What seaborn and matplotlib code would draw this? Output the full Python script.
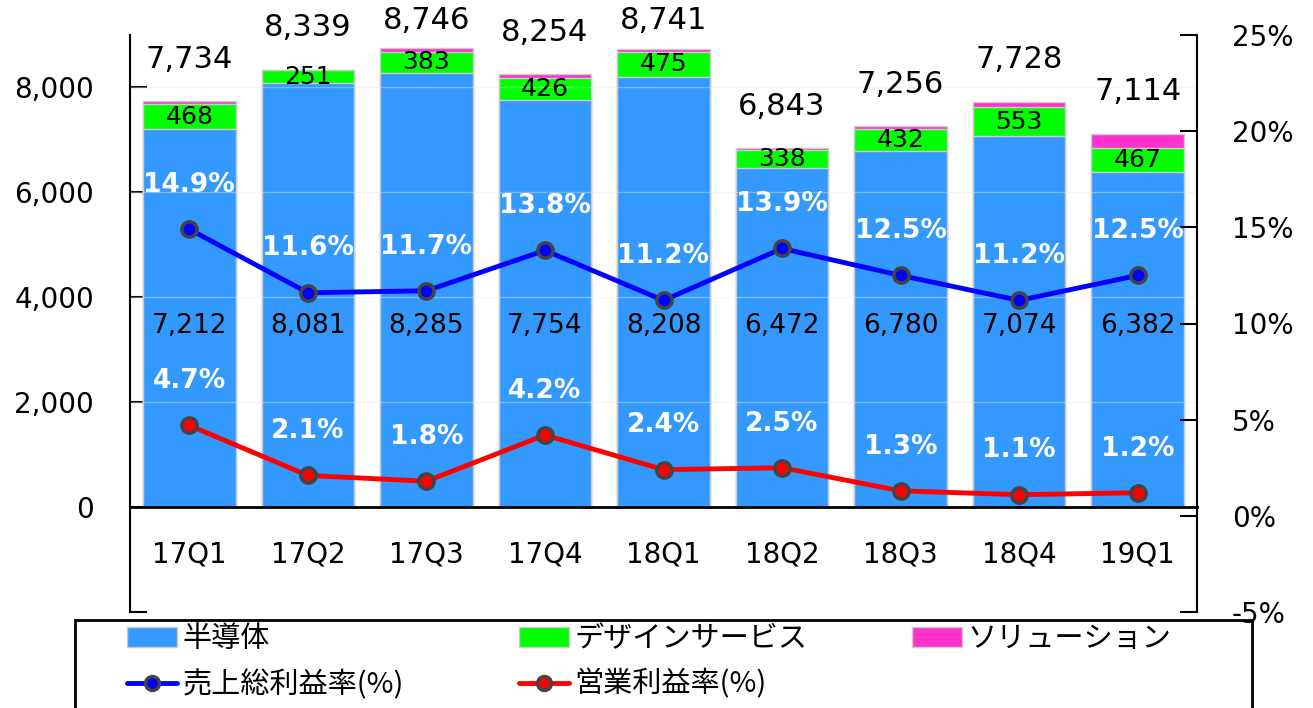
import numpy as np
import matplotlib
matplotlib.use("Agg")
import matplotlib.pyplot as plt
import seaborn as sns
from matplotlib.patches import Rectangle
from matplotlib.ticker import FixedLocator, FixedFormatter

quarters = ["17Q1", "17Q2", "17Q3", "17Q4", "18Q1", "18Q2", "18Q3", "18Q4", "19Q1"]
semi = [7212, 8081, 8285, 7754, 8208, 6472, 6780, 7074, 6382]
design = [468, 251, 383, 426, 475, 338, 432, 553, 467]
solution = [54, 7, 78, 74, 58, 33, 44, 101, 265]
totals = [7734, 8339, 8746, 8254, 8741, 6843, 7256, 7728, 7114]
gross_margin = [14.9, 11.6, 11.7, 13.8, 11.2, 13.9, 12.5, 11.2, 12.5]
op_margin = [4.7, 2.1, 1.8, 4.2, 2.4, 2.5, 1.3, 1.1, 1.2]

C_SEMI = "#3399ff"
C_DESIGN = "#00ff00"
C_SOL = "#ff33cc"
JP = ["Noto Sans CJK JP", "DejaVu Sans"]

sns.set_style("white")
plt.rcParams["font.family"] = ["DejaVu Sans", "Noto Sans CJK JP"]
plt.rcParams["text.color"] = "black"
plt.rcParams["xtick.color"] = "black"
plt.rcParams["ytick.color"] = "black"
plt.rcParams["axes.edgecolor"] = "black"

fig = plt.figure(figsize=(13.13, 7.08), dpi=100)
ax = fig.add_axes([130 / 1313, 1 - 612 / 708, 1067 / 1313, 577 / 708])

semi_arr = np.array(semi)
design_top = semi_arr + np.array(design)
sol_top = design_top + np.array(solution)

bar_kw = dict(ax=ax, width=0.78, saturation=1, errorbar=None,
              edgecolor="#cccccc", linewidth=1)
sns.barplot(x=quarters, y=sol_top, color=C_SOL, **bar_kw)
sns.barplot(x=quarters, y=design_top, color=C_DESIGN, **bar_kw)
sns.barplot(x=quarters, y=semi_arr, color=C_SEMI, **bar_kw)

ax.set_xlim(-0.5, len(quarters) - 0.5)
ax.set_ylim(-2000, 9000)
ax.set_xlabel("")
ax.set_ylabel("")

# faint grid over the bars
for v in [2000, 4000, 6000, 8000]:
    ax.axhline(v, color="#e6e6e6", lw=1, alpha=0.4, zorder=2.5)

# left axis
ax.yaxis.set_major_locator(FixedLocator([-2000, 0, 2000, 4000, 6000, 8000]))
ax.yaxis.set_major_formatter(FixedFormatter(["", "0", "2,000", "4,000", "6,000", "8,000"]))
ax.tick_params(axis="y", direction="in", length=12, width=1.5, pad=26, labelsize=20)

# x axis sits on zero line
ax.spines["bottom"].set_position(("data", 0))
ax.spines["bottom"].set_linewidth(2)
ax.spines["left"].set_linewidth(1.5)
ax.spines["top"].set_visible(False)
ax.spines["right"].set_visible(False)
n = len(quarters)
ax.xaxis.set_major_locator(FixedLocator(np.arange(n - 1) + 0.5))
ax.xaxis.set_major_formatter(FixedFormatter([""] * (n - 1)))
ax.xaxis.set_minor_locator(FixedLocator(np.arange(n)))
ax.xaxis.set_minor_formatter(FixedFormatter(quarters))
ax.tick_params(axis="x", which="major", direction="in", length=11, width=1.5)
ax.tick_params(axis="x", which="minor", length=0, pad=24, labelsize=20)

# bar labels (total labels are kept inside the figure top)
for i in range(n):
    ax.text(i, min(totals[i] + 800, 9270), f"{totals[i]:,}", ha="center", va="center",
            fontsize=22, clip_on=False)
    ax.text(i, semi[i] + design[i] / 2, f"{design[i]:,}", ha="center", va="center", fontsize=18)
    ax.text(i, 3450, f"{semi[i]:,}", ha="center", va="center", fontsize=19)

# right axis with margins
ax2 = ax.twinx()
ax2.set_ylim(-5, 25)
ax2.yaxis.set_major_locator(FixedLocator([-5, 0, 5, 10, 15, 20, 25]))
ax2.yaxis.set_major_formatter(FixedFormatter(["-5%", "0%", "5%", "10%", "15%", "20%", "25%"]))
ax2.tick_params(axis="y", direction="in", length=12, width=1.5, pad=25, labelsize=20)
for s in ["left", "top", "bottom"]:
    ax2.spines[s].set_visible(False)
ax2.spines["right"].set_linewidth(1.5)

x = np.arange(n)
line_kw = dict(ax=ax2, marker="o", markersize=11, markeredgecolor="#444444",
               markeredgewidth=2.5, linewidth=3.5, legend=False)
sns.lineplot(x=x, y=gross_margin, color="#0000ff", markerfacecolor="#0000ff", **line_kw)
sns.lineplot(x=x, y=op_margin, color="#ff0000", markerfacecolor="#ff0000", **line_kw)
ax2.set_xlim(-0.5, n - 0.5)

for i in range(n):
    ax2.text(i, gross_margin[i] + 2.3, f"{gross_margin[i]}%", ha="center", va="center",
             fontsize=19, fontweight="bold", color="white")
    ax2.text(i, op_margin[i] + 2.3, f"{op_margin[i]}%", ha="center", va="center",
             fontsize=19, fontweight="bold", color="white")

# legend
def bar_handle(c):
    return Rectangle((0, 0), 1, 1, facecolor=c, edgecolor="#cccccc", linewidth=1)

def line_handle(c):
    return plt.Line2D([], [], color=c, lw=3.5, marker="o", markersize=10,
                      markerfacecolor=c, markeredgecolor="#444444", markeredgewidth=2.5)

leg_kw = dict(loc="upper left", frameon=False, borderpad=0, borderaxespad=0,
              handlelength=1.7, handleheight=0.68, handletextpad=0.2,
              labelspacing=0.53, prop={"family": JP, "size": 21})
top = 1 - 624 / 708
fig.legend([bar_handle(C_SEMI), line_handle("#0000ff")], ["半導体", "売上総利益率(%)"],
           bbox_to_anchor=(127 / 1313, top), **leg_kw)
fig.legend([bar_handle(C_DESIGN), line_handle("#ff0000")], ["デザインサービス", "営業利益率(%)"],
           bbox_to_anchor=(519 / 1313, top), **leg_kw)
fig.legend([bar_handle(C_SOL)], ["ソリューション"],
           bbox_to_anchor=(912 / 1313, top), **leg_kw)
fig.add_artist(Rectangle((75 / 1313, -0.05), (1252 - 75) / 1313, 0.05 + 1 - 620 / 708,
                         transform=fig.transFigure, fill=False, edgecolor="black",
                         linewidth=2, clip_on=False))

fig.savefig("out.png", dpi=100)
